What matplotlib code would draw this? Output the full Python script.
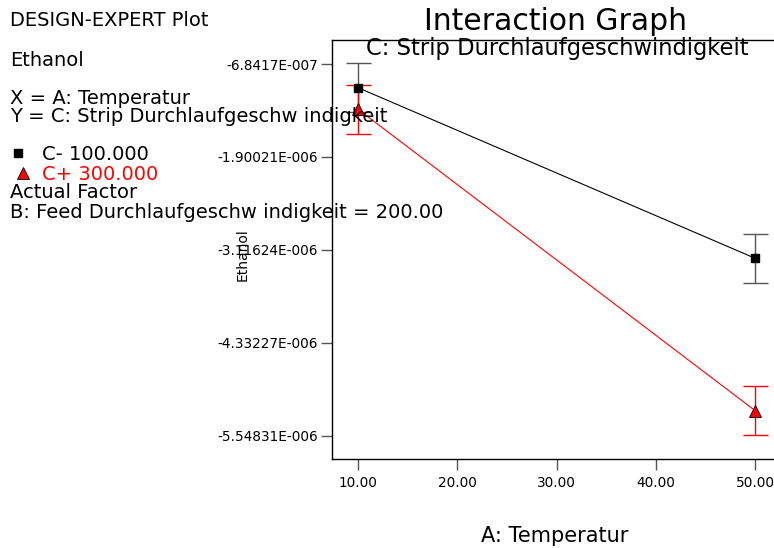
import matplotlib
matplotlib.use('Agg')
import matplotlib.pyplot as plt
from matplotlib.lines import Line2D

plt.rcParams.update({'font.family': 'DejaVu Sans'})

# data
temps = [10.0, 50.0]
c_minus = [-9.94e-7, -3.227e-6]     # C- 100.000
c_plus = [-1.276e-6, -5.221e-6]     # C+ 300.000
lsd_half = 3.2e-7

y_ticks = [-6.8417e-7, -1.90021e-6, -3.11624e-6, -4.33227e-6, -5.54831e-6]
y_ticklabels = ["-6.8417E-007", "-1.90021E-006", "-3.11624E-006",
                "-4.33227E-006", "-5.54831E-006"]
x_ticks = [10, 20, 30, 40, 50]
x_ticklabels = ["10.00", "20.00", "30.00", "40.00", "50.00"]

W, H = 774, 548
fig = plt.figure(figsize=(W / 100, H / 100), dpi=100)
# plot box runs past the right edge of the picture, as in the original
ax = fig.add_axes([332 / W, 1 - 459 / H, 496 / W, 419 / H])

ax.errorbar(temps, c_minus, yerr=lsd_half, fmt='none', ecolor='#555555',
            elinewidth=1.0, capsize=9, capthick=1.0, zorder=2)
ax.errorbar(temps, c_plus, yerr=lsd_half, fmt='none', ecolor='red',
            elinewidth=1.0, capsize=9, capthick=1.0, zorder=3)
ax.plot(temps, c_minus, '-', color='black', lw=0.8, zorder=4)
ax.plot(temps, c_plus, '-', color='red', lw=0.8, zorder=4)
ax.plot(temps, c_minus, 's', ms=6, color='black', zorder=5)
ax.plot(temps, c_plus, '^', ms=9, markerfacecolor='red',
        markeredgecolor='black', markeredgewidth=0.6, zorder=5)

ax.set_xlim(7.38, 7.38 + 496 / 9.93)
ax.set_ylim(-5.853e-6, -3.70e-7)
ax.set_xticks(x_ticks)
ax.set_xticklabels(x_ticklabels)
ax.set_yticks(y_ticks)
ax.set_yticklabels(y_ticklabels)
ax.tick_params(axis='both', direction='out', length=8, width=1,
               color='#555555', labelsize=9.8)
ax.tick_params(axis='y', pad=2)
ax.tick_params(axis='x', pad=4)
for sp in ax.spines.values():
    sp.set_linewidth(1.0)
ax.spines['right'].set_visible(False)

# titles and labels
fig.text(555 / W, 1 - 22 / H, "Interaction Graph", fontsize=21.5,
         ha='center', va='center')
fig.text(557 / W, 1 - 49 / H, "C: Strip Durchlaufgeschwindigkeit",
         fontsize=16.3, ha='center', va='center')
fig.text(555 / W, 1 - 536 / H, "A: Temperatur", fontsize=15,
         ha='center', va='center')
fig.text(243 / W, 1 - 255 / H, "Ethanol", fontsize=10, rotation=90,
         ha='center', va='center')

# Design-Expert side info
left_lines = [
    ("DESIGN-EXPERT Plot", 21),
    ("Ethanol", 60),
    ("X = A: Temperatur", 98),
    ("Y = C: Strip Durchlaufgeschw indigkeit", 117),
    ("Actual Factor", 193),
    ("B: Feed Durchlaufgeschw indigkeit = 200.00", 212),
]
for txt, yy in left_lines:
    fig.text(10 / W, 1 - yy / H, txt, fontsize=14, color='black',
             ha='left', va='center')

fig.text(42 / W, 1 - 155 / H, "C- 100.000", fontsize=14, color='black',
         ha='left', va='center')
fig.text(42 / W, 1 - 174 / H, "C+ 300.000", fontsize=14, color='red',
         ha='left', va='center')
fig.add_artist(Line2D([18 / W], [1 - 153 / H], marker='s', ms=6,
                      color='black', transform=fig.transFigure))
fig.add_artist(Line2D([23 / W], [1 - 173 / H], marker='^', ms=9,
                      markerfacecolor='red', markeredgecolor='black',
                      markeredgewidth=0.6, transform=fig.transFigure))

fig.savefig("out.png", dpi=100)
